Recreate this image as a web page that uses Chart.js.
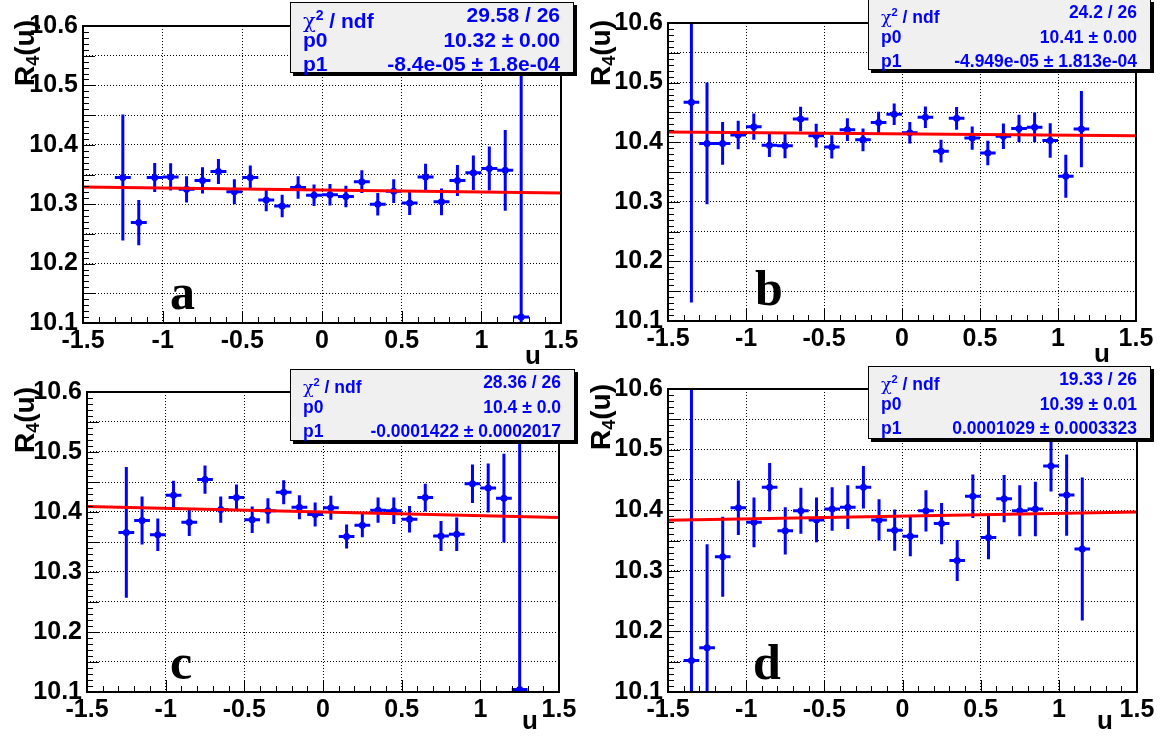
<!DOCTYPE html>
<html>
<head>
<meta charset="utf-8">
<script src="https://cdn.jsdelivr.net/npm/chart.js@4.4.1/dist/chart.umd.min.js"></script>
<style>
body { margin: 0; background: #fff; width: 1166px; height: 741px; position: relative; overflow: hidden; font-family: "Liberation Sans", Arial, sans-serif; }
canvas { position: absolute; }
.stat { position: absolute; background: #f0f0f0; border: 1px solid #000; box-shadow: 3px 3px 0 #000; color: #0000ff; font-weight: bold; box-sizing: border-box; padding: 0 13px 0 12px; z-index: 2; }
.row { display: flex; justify-content: space-between; height: 24.5px; line-height: 24.5px; white-space: nowrap; }
.chi { font-family: "DejaVu Serif", serif; font-weight: normal; }
.ytitle { position: absolute; width: 100px; text-align: right; font-weight: bold; font-size: 28px; line-height: 30px; transform: rotate(-90deg); transform-origin: left top; white-space: nowrap; z-index: 2; }
.ytitle sub { font-size: 18px; vertical-align: -5px; line-height: 0; }
.xtitle { position: absolute; font-weight: bold; font-size: 26px; line-height: 28px; z-index: 2; }
.letter { position: absolute; font-family: "Liberation Serif", "DejaVu Serif", serif; font-weight: bold; font-size: 50px; line-height: 52px; z-index: 2; }
</style>
</head>
<body>
<canvas id="pa" width="583" height="370" style="left:0;top:0"></canvas>
<canvas id="pb" width="583" height="370" style="left:583px;top:0"></canvas>
<canvas id="pc" width="583" height="371" style="left:0;top:370px"></canvas>
<canvas id="pd" width="583" height="371" style="left:583px;top:370px"></canvas>
<script>
// bin centres (bin width 0.1)
const binWidth = 0.1;
const uAC = [-1.25, -1.15, -1.05, -0.95, -0.85, -0.75, -0.65, -0.55, -0.45, -0.35, -0.25, -0.15, -0.05,
             0.05, 0.15, 0.25, 0.35, 0.45, 0.55, 0.65, 0.75, 0.85, 0.95, 1.05, 1.15, 1.25];
const uBD = [-1.35, -1.25, -1.15, -1.05, -0.95, -0.85, -0.75, -0.65, -0.55, -0.45, -0.35, -0.25, -0.15,
             -0.05, 0.05, 0.15, 0.25, 0.35, 0.45, 0.55, 0.65, 0.75, 0.85, 0.95, 1.05, 1.15];

const valA = [10.345, 10.269, 10.345, 10.346, 10.325, 10.340, 10.355, 10.321, 10.345, 10.307, 10.297, 10.328, 10.315,
              10.316, 10.313, 10.338, 10.300, 10.322, 10.302, 10.346, 10.304, 10.340, 10.353, 10.360, 10.357, 10.110];
const errA = [0.106, 0.038, 0.0245, 0.023, 0.022, 0.022, 0.021, 0.021, 0.020, 0.019, 0.019, 0.019, 0.018,
              0.018, 0.018, 0.019, 0.019, 0.020, 0.020, 0.022, 0.0225, 0.026, 0.029, 0.037, 0.068, 0.600];

const valB = [10.467, 10.398, 10.398, 10.412, 10.426, 10.395, 10.394, 10.439, 10.411, 10.392, 10.421, 10.404, 10.433,
              10.447, 10.416, 10.442, 10.385, 10.440, 10.407, 10.382, 10.410, 10.423, 10.425, 10.403, 10.343, 10.422];
const errB = [0.336, 0.102, 0.036, 0.024, 0.022, 0.020, 0.021, 0.0205, 0.020, 0.0195, 0.019, 0.019, 0.018,
              0.018, 0.018, 0.018, 0.019, 0.019, 0.0195, 0.0205, 0.0215, 0.023, 0.025, 0.029, 0.036, 0.064];

const valC = [10.366, 10.386, 10.362, 10.428, 10.383, 10.454, 10.404, 10.424, 10.387, 10.402, 10.433, 10.408, 10.396,
              10.407, 10.359, 10.378, 10.403, 10.402, 10.388, 10.424, 10.360, 10.363, 10.447, 10.440, 10.423, 10.104];
const errC = [0.109, 0.040, 0.027, 0.024, 0.023, 0.0235, 0.022, 0.022, 0.022, 0.021, 0.020, 0.020, 0.020,
              0.020, 0.020, 0.020, 0.021, 0.022, 0.022, 0.023, 0.025, 0.028, 0.032, 0.041, 0.074, 0.600];

const valD = [10.152, 10.173, 10.323, 10.404, 10.380, 10.438, 10.366, 10.399, 10.384, 10.402, 10.405, 10.438, 10.384,
              10.367, 10.357, 10.399, 10.378, 10.317, 10.423, 10.355, 10.419, 10.399, 10.402, 10.473, 10.425, 10.336];
const errD = [0.500, 0.171, 0.066, 0.045, 0.041, 0.040, 0.039, 0.038, 0.037, 0.036, 0.036, 0.035, 0.034,
              0.034, 0.033, 0.034, 0.034, 0.034, 0.036, 0.036, 0.039, 0.042, 0.045, 0.042, 0.067, 0.118];

// fit line p0 + p1*u, evaluated at the axis ends
const fitU = [-1.5, 1.5];
const fitA = [10.329, 10.319];
const fitB = [10.417, 10.411];
const fitC = [10.409, 10.391];
const fitD = [10.3835, 10.397];

// axis ticks
const xTicks = [-1.5, -1, -0.5, 0, 0.5, 1, 1.5];
const yTicks = [10.1, 10.15, 10.2, 10.25, 10.3, 10.35, 10.4, 10.45, 10.5, 10.55, 10.6];

// stat box texts
const statA = ['29.58 / 26', '10.32 \u00b1 0.00', '-8.4e-05 \u00b1 1.8e-04'];
const statB = ['24.2 / 26', '10.41 \u00b1 0.00', '-4.949e-05 \u00b1 1.813e-04'];
const statC = ['28.36 / 26', '10.4 \u00b1 0.0', '-0.0001422 \u00b1 0.0002017'];
const statD = ['19.33 / 26', '10.39 \u00b1 0.01', '0.0001029 \u00b1 0.0003323'];

const BLUE = '#0000ff';
const tickFont = { family: 'Liberation Sans', weight: 'bold', size: 25 };

// ROOT-like frame with inward ticks
const rootAxes = {
    id: 'rootAxes',
    afterDraw(chart) {
        const { ctx, chartArea: a, scales: { x, y } } = chart;
        ctx.save();
        ctx.strokeStyle = '#000';
        ctx.lineWidth = 1;
        ctx.beginPath();
        for (let k = 0; k <= 30; k++) {
            const px = Math.round(x.getPixelForValue(-1.5 + k * 0.1)) + 0.5;
            const len = k % 5 === 0 ? 12 : 6;
            ctx.moveTo(px, a.bottom);
            ctx.lineTo(px, a.bottom - len);
        }
        for (let k = 0; k <= 50; k++) {
            const py = Math.round(y.getPixelForValue(10.1 + k * 0.01)) + 0.5;
            const len = k % 5 === 0 ? 12 : 6;
            ctx.moveTo(a.left, py);
            ctx.lineTo(a.left + len, py);
        }
        ctx.stroke();
        ctx.lineWidth = 2;
        ctx.strokeRect(a.left, a.top, a.right - a.left, a.bottom - a.top);
        ctx.restore();
    }
};

function makePanel(id, u, val, err, fit, lay) {
    const points = u.map((x, i) => ({ x: x, y: val[i] }));
    const vbars = [];
    const hbars = [];
    u.forEach((x, i) => {
        vbars.push({ x: x, y: val[i] - err[i] }, { x: x, y: val[i] + err[i] }, { x: x, y: null });
        hbars.push({ x: x - binWidth / 2, y: val[i] }, { x: x + binWidth / 2, y: val[i] }, { x: x, y: null });
    });
    return new Chart(document.getElementById(id), {
        type: 'scatter',
        data: {
            datasets: [{
                data: fitU.map((x, i) => ({ x: x, y: fit[i] })),
                showLine: true,
                borderColor: '#ff0000',
                borderWidth: 3,
                pointRadius: 0,
                clip: 0,
                order: 0
            }, {
                data: points,
                pointRadius: 3.5,
                pointBackgroundColor: BLUE,
                pointBorderWidth: 0,
                clip: 0,
                order: 1
            }, {
                data: vbars,
                showLine: true,
                spanGaps: false,
                borderColor: BLUE,
                borderWidth: 3,
                pointRadius: 0,
                clip: 0,
                order: 2
            }, {
                data: hbars,
                showLine: true,
                spanGaps: false,
                borderColor: BLUE,
                borderWidth: 3,
                pointRadius: 0,
                clip: 0,
                order: 2
            }]
        },
        options: {
            responsive: false,
            animation: false,
            events: [],
            layout: { padding: { left: 0, top: lay.top, right: lay.right, bottom: 0 } },
            scales: {
                x: {
                    type: 'linear',
                    min: -1.5,
                    max: 1.5,
                    afterBuildTicks: (s) => { s.ticks = xTicks.map(v => ({ value: v })); },
                    afterFit: (s) => { s.height = lay.xh; s.paddingLeft = 0; s.paddingRight = 0; },
                    ticks: {
                        autoSkip: false,
                        maxRotation: 0,
                        padding: 3,
                        color: '#000',
                        font: tickFont,
                        callback: (v) => String(Math.round(v * 10) / 10)
                    },
                    grid: { color: '#000', lineWidth: 1, drawTicks: false },
                    border: { display: false, dash: [1, 2] }
                },
                y: {
                    type: 'linear',
                    min: 10.1,
                    max: 10.6,
                    afterBuildTicks: (s) => { s.ticks = yTicks.map(v => ({ value: v })); },
                    afterFit: (s) => { s.width = lay.yw; s.paddingTop = 0; s.paddingBottom = 0; },
                    ticks: {
                        autoSkip: false,
                        padding: 5,
                        color: '#000',
                        font: tickFont,
                        callback: (v) => {
                            const k = Math.round(v * 100);
                            return k % 10 === 0 ? (k / 100).toFixed(1) : '';
                        }
                    },
                    grid: { color: '#000', lineWidth: 1, drawTicks: false },
                    border: { display: false, dash: [1, 2] }
                }
            },
            plugins: { legend: { display: false }, tooltip: { enabled: false } }
        },
        plugins: [rootAxes]
    });
}

makePanel('pa', uAC, valA, errA, fitA, { yw: 83, top: 26, right: 22, xh: 47 });
makePanel('pb', uBD, valB, errB, fitB, { yw: 85, top: 23, right: 30, xh: 49 });
makePanel('pc', uAC, valC, errC, fitC, { yw: 87, top: 22, right: 24, xh: 49 });
makePanel('pd', uBD, valD, errD, fitD, { yw: 85, top: 19, right: 29, xh: 49 });

// overlays: stat boxes, titles, panel letters
function addStat(texts, left, top, width, height, size) {
    const d = document.createElement('div');
    d.className = 'stat';
    d.style.cssText = `left:${left}px;top:${top}px;width:${width}px;height:${height}px;font-size:${size}px`;
    const labels = [`<span><span class="chi">\u03c7</span><sup style="font-size:${Math.round(size * 0.65)}px">2</sup> / ndf</span>`, '<span>p0</span>', '<span>p1</span>'];
    d.innerHTML = texts.map((t, i) => `<div class="row">${labels[i]}<span>${t}</span></div>`).join('');
    document.body.appendChild(d);
}
addStat(statA, 290, 2, 284, 71, 21);
addStat(statB, 868, -1, 283, 71, 17.5);
addStat(statC, 290, 369, 285, 72, 17.5);
addStat(statD, 868, 366, 283, 73, 17.5);

function addDiv(cls, html, left, top) {
    const d = document.createElement('div');
    d.className = cls;
    d.innerHTML = html;
    d.style.left = left + 'px';
    d.style.top = top + 'px';
    document.body.appendChild(d);
}
const rTitle = 'R<sub>4</sub>(u)';
addDiv('ytitle', rTitle, 10, 120);
addDiv('ytitle', rTitle, 586, 120);
addDiv('ytitle', rTitle, 10, 487);
addDiv('ytitle', rTitle, 586, 484);

addDiv('xtitle', 'u', 525, 341);
addDiv('xtitle', 'u', 1094, 339);
addDiv('xtitle', 'u', 522, 706);
addDiv('xtitle', 'u', 1097, 706);

addDiv('letter', 'a', 170, 266);
addDiv('letter', 'b', 755, 262);
addDiv('letter', 'c', 170, 636);
addDiv('letter', 'd', 753, 636);
</script>
</body>
</html>
